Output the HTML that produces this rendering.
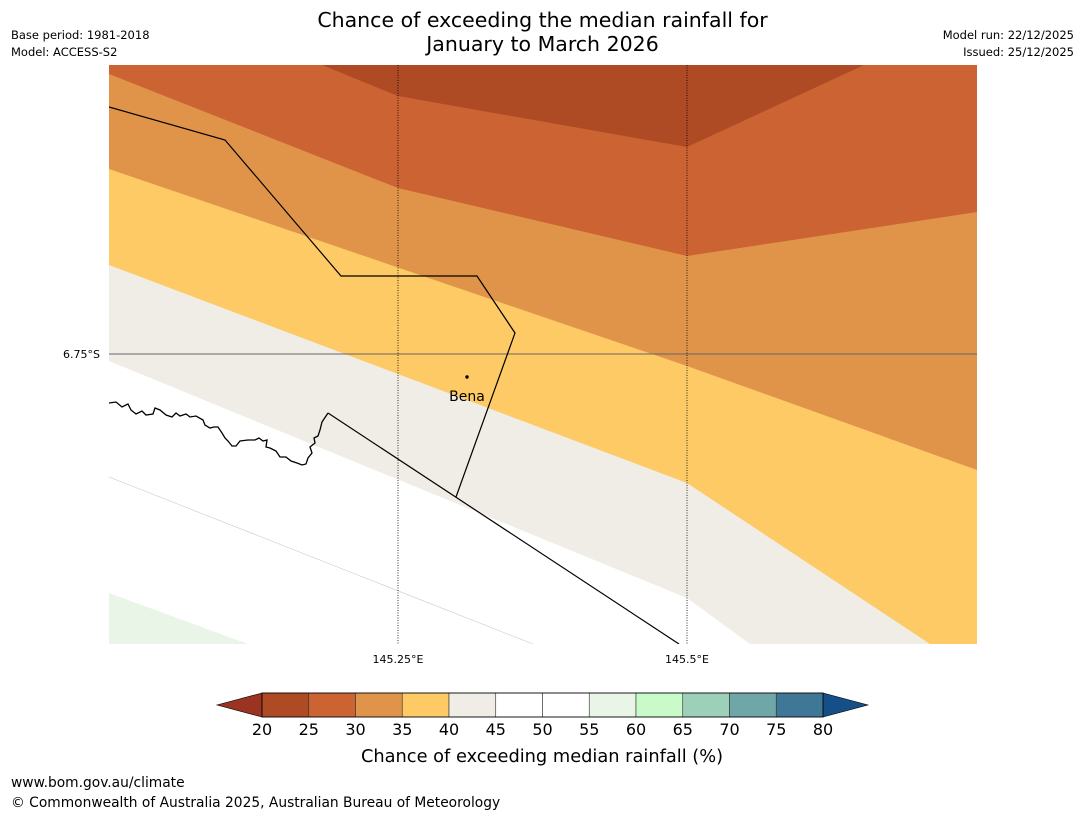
<!DOCTYPE html>
<html><head><meta charset="utf-8">
<style>
body{margin:0;width:1085px;height:816px;background:#fff;font-family:"Liberation Sans","DejaVu Sans",sans-serif;overflow:hidden;position:relative}
.t{position:absolute;white-space:nowrap}
</style></head><body>
<div class="t" style="left:0;width:1085px;top:8px;text-align:center;font-size:20.5px;line-height:24px;font-family:'DejaVu Sans',sans-serif">Chance of exceeding the median rainfall for<br>January to March 2026</div>
<div class="t" style="left:11px;top:27px;font-size:11.5px;line-height:17px;font-family:'DejaVu Sans',sans-serif">Base period: 1981-2018<br>Model: ACCESS-S2</div>
<div class="t" style="right:11px;top:27px;font-size:11.5px;line-height:17px;text-align:right;font-family:'DejaVu Sans',sans-serif">Model run: 22/12/2025<br>Issued: 25/12/2025</div>
<svg width="1085" height="816" style="position:absolute;left:0;top:0">
<defs><clipPath id="c"><rect x="109" y="65" width="868" height="579"/></clipPath></defs>
<g clip-path="url(#c)">
<rect x="109" y="65" width="868" height="579" fill="#fff"/>
<polygon points="109,593 248,644 109,644" fill="#e9f5e7"/>
<line x1="109" y1="477" x2="533" y2="644" stroke="#ccc" stroke-width="0.6"/>
<polygon points="109,65 977,65 977,644 750,644 687,598 109,361" fill="#f0ece6"/>
<polygon points="109,65 977,65 977,644 930,644 687,483 109,265" fill="#fdca66"/>
<polygon points="109,65 977,65 977,470 687,366 109,169" fill="#e0944a"/>
<polygon points="109,65 977,65 977,212 687,256 398,188 109,74" fill="#cb6332"/>
<polygon points="322,65 864,65 687,147 398,96" fill="#ae4a24"/>
<line x1="109" y1="354" x2="977" y2="354" stroke="#666" stroke-width="1"/>
<line x1="398" y1="65" x2="398" y2="644" stroke="#000" stroke-width="0.8" stroke-dasharray="1,1.5"/>
<line x1="687" y1="65" x2="687" y2="644" stroke="#000" stroke-width="0.8" stroke-dasharray="1,1.5"/>
<polyline points="109,107 225,140 341,276 477,276 515,333 456,497" fill="none" stroke="#000" stroke-width="1.2"/>
<polyline points="328,413 679,644" fill="none" stroke="#000" stroke-width="1.2"/>
<polyline points="109,403 116,402 122,407 128,404 131,410 136,414 142,411 146,415 153,414 155,408 160,410 166,415 172,417 176,413 180,416 186,414 190,417 196,416 203,420 205,425 210,428 214,427 218,427 222,433 225,438 228,441 232,446 236,446 240,441 248,440 255,440 259,438 263,441 267,440 266,447 270,448 276,451 280,457 286,457 291,461 297,463 302,465 306,464 308,458 312,453 310,447 315,443 314,438 318,436 320,430 322,422 328,413" fill="none" stroke="#000" stroke-width="1.3"/>
<circle cx="467" cy="377" r="1.7" fill="#000"/>
</g>
<text x="467" y="401" text-anchor="middle" font-size="14" font-family="DejaVu Sans,sans-serif">Bena</text>
<text x="100" y="358" text-anchor="end" font-size="11" font-family="DejaVu Sans,sans-serif">6.75°S</text>
<text x="398" y="663" text-anchor="middle" font-size="11" font-family="DejaVu Sans,sans-serif">145.25°E</text>
<text x="687" y="663" text-anchor="middle" font-size="11" font-family="DejaVu Sans,sans-serif">145.5°E</text>
<g id="cb"></g>
<text x="542" y="762" text-anchor="middle" font-size="17.8" font-family="DejaVu Sans,sans-serif">Chance of exceeding median rainfall (%)</text>
</svg>
<div class="t" style="left:11px;top:775px;font-size:13.8px;font-family:'DejaVu Sans',sans-serif">www.bom.gov.au/climate</div>
<div class="t" style="left:11px;top:795px;font-size:13.8px;font-family:'DejaVu Sans',sans-serif">© Commonwealth of Australia 2025, Australian Bureau of Meteorology</div>
<script>
const levels=[20,25,30,35,40,45,50,55,60,65,70,75,80];
const colors=["#ae4a24","#cb6332","#e0944a","#fdca66","#f0ece6","#ffffff","#ffffff","#e9f5e7","#c9fbc9","#9dd0b9","#6fa6a8","#3f7896"];
const extLow="#9a3322", extHigh="#154f87";
const ns="http://www.w3.org/2000/svg";
const g=document.getElementById('cb');
const x0=262,x1=823,y0=693,h=24;
function xs(v){return x0+(v-levels[0])/(levels[levels.length-1]-levels[0])*(x1-x0);}
function mk(t,a){const e=document.createElementNS(ns,t);for(const k in a)e.setAttribute(k,a[k]);g.appendChild(e);return e;}
let p=mk('polygon',{points:`${x0},${y0} ${x0},${y0+h} 217,${y0+h/2}`,fill:extLow,stroke:'#000','stroke-width':0.6});


p=mk('polygon',{points:`${x1},${y0} ${x1},${y0+h} 868,${y0+h/2}`,fill:extHigh,stroke:'#000','stroke-width':0.6});


for(let i=0;i<colors.length;i++){
  const r=mk('rect',{x:xs(levels[i]),y:y0,width:xs(levels[i+1])-xs(levels[i]),height:h,fill:colors[i],stroke:'#333','stroke-width':0.6});
  
  
}
mk('rect',{x:x0,y:y0,width:x1-x0,height:h,fill:'none',stroke:'#000','stroke-width':0.8});
levels.forEach(v=>{
  const t=mk('text',{x:xs(v),y:735,'text-anchor':'middle','font-size':16,'font-family':'DejaVu Sans,sans-serif'});
  t.textContent=v;
  
  
});
</script>
</body></html>
